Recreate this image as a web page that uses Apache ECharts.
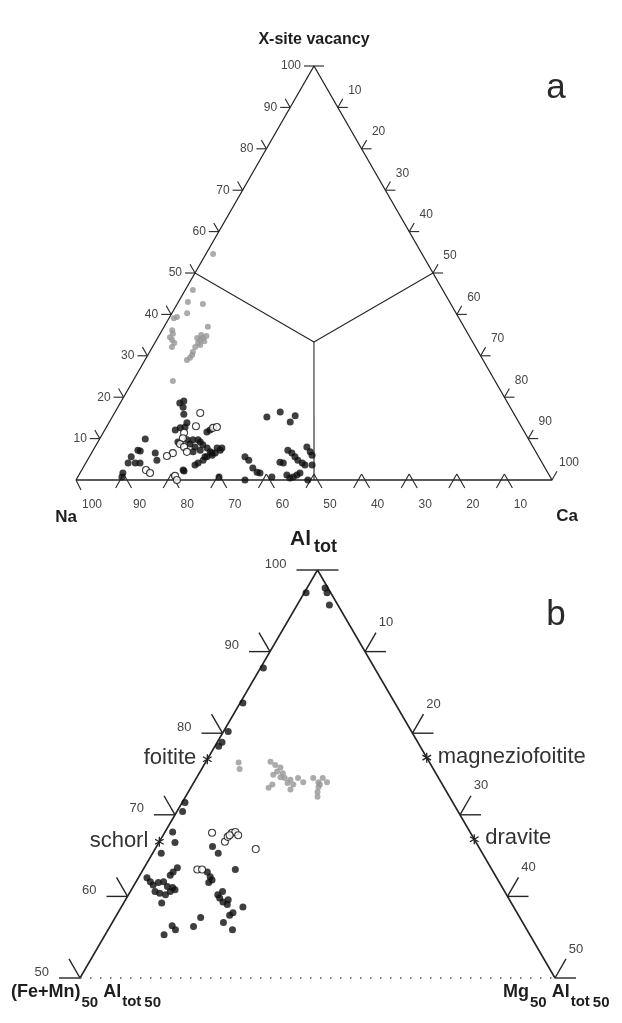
<!DOCTYPE html>
<html>
<head>
<meta charset="utf-8">
<title>Tourmaline X-site and Al-Fe-Mg ternary diagrams</title>
<style>
  html, body { margin: 0; padding: 0; background: #fff; }
  #chart { width: 622px; height: 1023px; }
</style>
<script src="https://cdn.jsdelivr.net/npm/echarts@6/dist/echarts.min.js"></script>
</head>
<body>
<div id="chart"></div>
<script>
// ---------- Panel a: X-site occupancy, vacancy - Na - Ca (%) ----------
// each point is [vacancy, Ca]; Na = 100 - vacancy - Ca
const aFilled = [
  [18.6,12.5],[19.1,13.1],[17.6,13.7],[15.9,14.7],[13.8,16.4],[12.8,16.5],[12.1,14.8],[12.6,15.6],
  [11.6,21.7],[9.9,9.6],[9.2,16.8],[9.7,18.5],[8.7,19.6],[8.0,21.0],[7.2,22.5],[6.8,21.2],
  [9.7,20.8],[8.5,22.4],[7.7,25.8],[7.2,26.7],[7.7,26.8],[7.0,10.0],[6.5,13.4],[4.8,14.6],
  [5.6,8.8],[4.1,8.9],[4.1,10.4],[4.1,11.4],[2.2,21.6],[3.6,23.2],[4.1,23.6],[4.8,24.3],
  [5.6,24.7],[6.0,25.6],[6.5,26.0],[0.7,9.3],[1.7,9.0],[0.7,29.7],[5.6,32.7],[4.8,33.9],
  [2.9,35.7],[1.9,37.1],[1.7,37.8],[0,35.5],[15.2,32.5],[16.4,34.7],[14.0,38.0],[15.5,38.3],
  [4.3,40.7],[4.1,41.5],[7.2,40.9],[6.5,42.1],[5.6,43.2],[4.8,44.2],[4.1,45.5],[3.6,46.3],
  [8.0,44.5],[6.8,45.8],[6.0,46.6],[3.6,47.8],[1.2,43.7],[0.5,44.7],[0.7,45.3],[1.2,45.8],
  [1.7,46.2],[0,48.7],[0.7,40.8],[6.5,25.3],[9.7,19.7],[9.2,21.5],[7.7,23.7],[6.8,24.8],
  [5.6,24.3],[12.1,22.1],[7.2,9.4],[2.4,21.3]
];
const aOpen = [
  [16.2,18.0],[13.0,18.7],[12.6,22.5],[12.8,23.2],[11.4,17.0],[10.1,17.4],[8.7,17.5],[8.0,18.7],
  [6.8,19.9],[6.5,17.1],[5.8,16.2],[2.4,13.5],[1.7,14.7],[1.0,20.3],[0,21.2]
];
const aGrey = [
  [54.6,1.5],[45.9,1.6],[43.0,2.0],[42.5,5.4],[40.3,3.2],[39.4,1.5],[39.1,1.0],[37.0,9.2],
  [36.2,2.1],[35.3,2.7],[34.5,2.5],[33.8,3.3],[33.1,4.1],[32.1,4.1],[34.3,8.3],[33.8,9.2],
  [33.1,9.1],[32.1,9.0],[30.9,9.1],[30.2,9.3],[29.5,9.2],[29.0,8.8],[23.9,8.4],[34.3,9.5],
  [32.6,9.8],[35.0,8.8],[34.8,10.0],[33.5,10.2]
];
const aVacTicks = [10, 20, 30, 40, 50, 60, 70, 80, 90, 100];
const aCaTicks  = [0, 10, 20, 30, 40, 50, 60, 70, 80, 90, 100];
const aNaTicks  = [100, 90, 80, 70, 60, 50, 40, 30, 20, 10];
// field boundaries (vacant / alkali / calcic), as [vacancy, Ca]
const aBoundary = [[50, 0], [33.33, 33.33], [50, 50]];
const aStem     = [[33.33, 33.33], [0, 50]];

// ---------- Panel b: Al_tot - (Fe+Mn)50Al50 - Mg50Al50 ----------
// each point is [Al_tot, Mg]; (Fe+Mn) = 100 - Al_tot - Mg
const bFilled = [
  [97.2,0.2],[97.8,1.9],[97.2,2.4],[95.7,3.4],[88.0,0.3],[83.7,0.3],[80.2,0.5],[78.9,0.5],
  [78.4,0.4],[71.5,0.3],[70.4,0.6],[67.9,0.8],[66.6,1.7],[65.3,0.9],[63.5,3.5],[63.0,3.3],
  [62.6,3.2],[62.3,0.9],[61.8,1.5],[61.4,2.0],[61.7,2.4],[61.8,2.9],[61.2,3.6],[61.1,4.2],
  [60.8,4.6],[60.6,2.6],[60.4,3.2],[60.2,3.9],[60.6,4.2],[59.2,4.0],[66.1,5.9],[65.3,6.9],
  [63.0,6.9],[62.4,7.5],[61.7,7.7],[62.0,7.9],[63.3,9.7],[60.2,9.4],[59.8,9.8],[59.3,10.4],
  [59.0,11.0],[59.6,10.8],[60.6,9.7],[57.7,11.9],[58.0,12.1],[58.7,12.8],[56.8,11.7],[55.9,13.1],
  [57.4,9.0],[56.3,8.8],[56.4,6.5],[55.9,7.1],[55.3,6.2]
];
const bOpen = [
  [67.8,5.0],[66.7,6.9],[67.3,6.9],[67.8,7.1],[67.9,7.4],[67.5,7.9],[67.5,7.0],[65.8,10.6],
  [63.3,5.7],[63.3,6.2]
];
const bGrey = [
  [76.4,3.5],[75.6,4.0],[76.5,6.8],[76.1,7.5],[75.8,8.2],[75.3,8.1],[74.9,7.9],[74.6,8.8],
  [74.5,9.3],[74.3,10.0],[75.1,8.8],[73.9,9.9],[73.7,10.6],[74.5,10.7],[74.0,11.5],[73.7,8.4],
  [73.3,8.2],[73.1,10.6],[74.5,12.3],[74.0,13.1],[74.5,13.3],[74.0,14.0],[73.4,13.4],[72.8,13.6],
  [72.2,13.9],[73.7,13.4]
];
const bAlTicks = [50, 60, 70, 80, 90, 100];
const bMgTicks = [0, 10, 20, 30, 40, 50];
// end-member compositions
const endNames = ['foitite', 'schorl', 'magneziofoitite', 'dravite'];
const endAl    = [76.8, 66.7, 77.0, 67.0];
const endMg    = [0, 0, 23.0, 33.0];

// ---------- ternary -> cartesian (both panels use 0..100 x 0..100 axes) ----------
function aXY(p) { return [p[1] + p[0] / 2, p[0]]; }
function bXY(p) {
  const w = (p[0] - 50) / 50, r = p[1] / 50;
  return [100 * (r + w / 2), 100 * w];
}

const FONT = "'Liberation Sans', Arial, Helvetica, sans-serif";
const INK = '#262626';
const SIN60 = Math.sqrt(3) / 2;

// tick kinds
const LEFT = 0, LEFT_H = 1, RIGHT = 2, RIGHT_H = 3, RIGHT_S = 4, BASE = 5, BASE_CORNER = 6;

const aTickData = [];
aVacTicks.forEach(v => aTickData.push([...aXY([v, 0]), v === 100 ? LEFT_H : LEFT, v]));
aCaTicks.forEach(c => aTickData.push([...aXY([100 - c, c]),
  c === 0 ? RIGHT_H : (c === 100 ? RIGHT_S : RIGHT), c === 0 ? -1 : c]));
aNaTicks.forEach(n => aTickData.push([...aXY([0, 100 - n]), n === 100 ? BASE_CORNER : BASE, n]));

const bTickData = [];
bAlTicks.forEach(al => bTickData.push([...bXY([al, 0]), al === 100 ? LEFT_H : LEFT, al]));
bMgTicks.forEach(mg => bTickData.push([...bXY([100 - mg, mg]), mg === 0 ? RIGHT_H : RIGHT, mg === 0 ? -1 : mg]));

function txt(x, y, text, font, align, valign, fill) {
  return {
    type: 'text', x: x, y: y,
    style: { text: text, font: font, fill: fill || '#444',
      align: align, textAlign: align, verticalAlign: valign, textVerticalAlign: valign }
  };
}

function tickSeries(gi, data, cfg) {
  return {
    type: 'custom', xAxisIndex: gi, yAxisIndex: gi, silent: true, z: 3, data: data,
    renderItem: function (params, api) {
      const p = api.coord([api.value(0), api.value(1)]);
      const x = p[0], y = p[1];
      const kind = api.value(2), lab = api.value(3);
      const L = cfg.len, H = cfg.hl;
      const kids = [];
      const seg = (x1, y1, x2, y2) => kids.push({ type: 'line',
        shape: { x1: x1, y1: y1, x2: x2, y2: y2 }, style: { stroke: INK, lineWidth: cfg.lw } });
      let lp = null;
      const font = cfg.font + 'px ' + FONT;
      if (kind === LEFT || kind === LEFT_H) {
        seg(x, y, x - H, y);
        if (kind === LEFT) seg(x, y, x - 0.5 * L, y - SIN60 * L);
        lp = [x + cfg.leftLab[0], y + cfg.leftLab[1], 'right'];
      } else if (kind === RIGHT || kind === RIGHT_H || kind === RIGHT_S) {
        if (kind !== RIGHT_S) seg(x, y, x + H, y);
        if (kind !== RIGHT_H) seg(x, y, x + 0.5 * L, y - SIN60 * L);
        lp = [x + cfg.rightLab[0], y + cfg.rightLab[1], 'center'];
      } else if (kind === BASE) {
        seg(x, y - cfg.bu, x - cfg.bw, y + cfg.bd);
        seg(x, y - cfg.bu, x + cfg.bw, y + cfg.bd);
        lp = [x + cfg.baseLab[0], y + cfg.baseLab[1], 'center'];
      } else if (kind === BASE_CORNER) {
        seg(x, y, x + 5, y + 10);
        lp = [x + cfg.baseLab[0], y + cfg.baseLab[1], 'center'];
      }
      if (lab >= 0 && lp) kids.push(txt(lp[0], lp[1], String(lab), font, lp[2], 'middle', '#454545'));
      return { type: 'group', children: kids };
    }
  };
}

function frame(gi, pts, style) {
  return { type: 'line', xAxisIndex: gi, yAxisIndex: gi, data: pts, symbol: 'none',
    silent: true, clip: false, z: 2, lineStyle: style };
}

function dots(gi, name, pts, kind) {
  const st = {
    filled: { symbolSize: 7, itemStyle: { color: '#0f0f0f' } },
    open:   { symbolSize: 7, itemStyle: { color: '#fff', borderColor: '#111', borderWidth: 1.1 } },
    grey:   { symbolSize: 6, itemStyle: { color: '#969696' } }
  }[kind];
  return Object.assign({ type: 'scatter', name: name, xAxisIndex: gi, yAxisIndex: gi,
    data: pts, symbol: 'circle', clip: false, silent: true, z: kind === 'open' ? 5 : 4 }, st);
}

const endData = endNames.map((n, i) => [...bXY([endAl[i], endMg[i]]), i]);
const endSeries = {
  type: 'custom', xAxisIndex: 1, yAxisIndex: 1, silent: true, z: 6, data: endData,
  renderItem: function (params, api) {
    const p = api.coord([api.value(0), api.value(1)]);
    const i = api.value(2);
    const kids = [];
    const r = 5;
    [90, 30, -30].forEach(deg => {
      const a = deg * Math.PI / 180, dx = r * Math.cos(a), dy = r * Math.sin(a);
      kids.push({ type: 'line', shape: { x1: p[0] - dx, y1: p[1] - dy, x2: p[0] + dx, y2: p[1] + dy },
        style: { stroke: '#222', lineWidth: 1.3 } });
    });
    const left = endMg[i] === 0;
    kids.push(txt(left ? p[0] - 11 : p[0] + 11, p[1] - 1, endNames[i], '22px ' + FONT,
      left ? 'right' : 'left', 'middle', '#333'));
    return { type: 'group', children: kids };
  }
};

// sequential text runs with subscripts, placed by baseline
const measure = document.createElement('canvas').getContext('2d');
function runs(x0, base, items) {
  const out = [];
  let x = x0;
  items.forEach(it => {
    const font = 'bold ' + it.size + 'px ' + FONT;
    x += it.gap || 0;
    const b = base + (it.dy || 0);
    out.push(txt(x, b - 0.35 * it.size, it.t, font, 'left', 'middle', '#1e1e1e'));
    measure.font = font;
    x += measure.measureText(it.t).width;
  });
  return out;
}

const graphics = [
  txt(314, 40, 'X-site vacancy', 'bold 16px ' + FONT, 'center', 'middle', '#1e1e1e'),
  txt(556, 88, 'a', '35px ' + FONT, 'center', 'middle', '#2a2a2a'),
  txt(66, 517, 'Na', 'bold 17px ' + FONT, 'center', 'middle', '#1e1e1e'),
  txt(567, 516, 'Ca', 'bold 17px ' + FONT, 'center', 'middle', '#1e1e1e'),
  txt(556, 615, 'b', '35px ' + FONT, 'center', 'middle', '#2a2a2a'),
  ...runs(290, 547, [{ t: 'Al', size: 21 }, { t: 'tot', size: 18, dy: 6, gap: 3 }]),
  ...runs(11, 998, [
    { t: '(Fe+Mn)', size: 18 }, { t: '50', size: 15, dy: 10, gap: 1 },
    { t: 'Al', size: 18, gap: 5 }, { t: 'tot', size: 15, dy: 9, gap: 1 },
    { t: '50', size: 15, dy: 10, gap: 3 }
  ]),
  ...runs(503, 998, [
    { t: 'Mg', size: 18 }, { t: '50', size: 15, dy: 10, gap: 1 },
    { t: 'Al', size: 18, gap: 5 }, { t: 'tot', size: 15, dy: 9, gap: 1 },
    { t: '50', size: 15, dy: 10, gap: 3 }
  ])
];

const axisOff = { type: 'value', min: 0, max: 100, show: false };

const option = {
  backgroundColor: '#fff',
  animation: false,
  grid: [
    { left: 76, top: 66, width: 476, height: 414 },
    { left: 80, top: 570, width: 475, height: 408 }
  ],
  xAxis: [Object.assign({ gridIndex: 0 }, axisOff), Object.assign({ gridIndex: 1 }, axisOff)],
  yAxis: [Object.assign({ gridIndex: 0 }, axisOff), Object.assign({ gridIndex: 1 }, axisOff)],
  graphic: graphics,
  series: [
    // panel a
    frame(0, [[0, 0], [100, 0], [0, 100], [0, 0]].map(aXY), { color: INK, width: 1.3 }),
    frame(0, aBoundary.map(aXY), { color: INK, width: 1.1 }),
    frame(0, aStem.map(aXY), { color: INK, width: 1.1 }),
    tickSeries(0, aTickData, { len: 10, hl: 10, lw: 1.1, font: 12,
      leftLab: [-13, 0], rightLab: [17, -17], baseLab: [16, 25], bu: 6, bd: 8, bw: 8 }),
    dots(0, 'grey', aGrey.map(aXY), 'grey'),
    dots(0, 'filled', aFilled.map(aXY), 'filled'),
    dots(0, 'open', aOpen.map(aXY), 'open'),
    // panel b
    frame(1, [[50, 0], [100, 0], [50, 50]].map(bXY), { color: INK, width: 1.6 }),
    frame(1, [[50, 0], [50, 50]].map(bXY), { color: '#555', width: 1.6, type: [1.5, 8.5] }),
    tickSeries(1, bTickData, { len: 22, hl: 21, lw: 1.4, font: 13,
      leftLab: [-31, -6], rightLab: [21, -29], baseLab: [0, 0], bu: 0, bd: 0, bw: 0 }),
    dots(1, 'grey', bGrey.map(bXY), 'grey'),
    dots(1, 'filled', bFilled.map(bXY), 'filled'),
    dots(1, 'open', bOpen.map(bXY), 'open'),
    endSeries
  ]
};

const chart = echarts.init(document.getElementById('chart'), null, { renderer: 'canvas' });
chart.setOption(option);
</script>
</body>
</html>
